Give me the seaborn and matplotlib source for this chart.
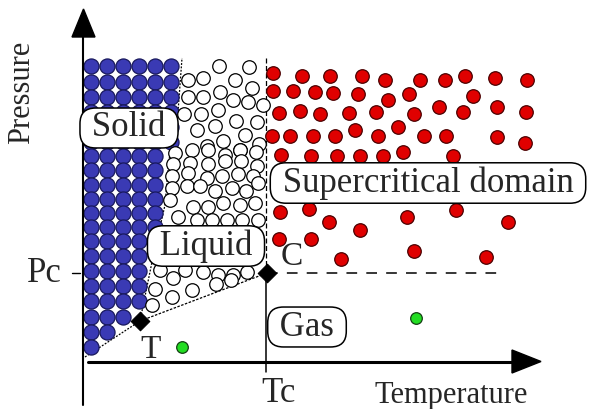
import matplotlib
matplotlib.use("Agg")
import matplotlib.pyplot as plt
import seaborn as sns
import pandas as pd

# ---------------- data (schematic coordinates, x to the right, y downward) ----------------
blue_cols = [91, 107, 123, 139, 155, 171]
blue_rows_y = [66, 82, 97, 112, 127, 142, 156, 170, 185, 199, 213, 227, 241, 256, 271, 286, 301, 317, 332, 347]
blue_rows_n = [6, 6, 6, 6, 6, 6, 5, 5, 5, 5, 5, 5, 5, 4, 4, 4, 4, 3, 2, 1]

liquid_x = [219, 249, 188, 203, 235, 252, 188, 203, 220, 233, 248, 263,
            184, 201, 218, 236, 257, 197, 215, 245, 259, 207, 223, 240,
            175, 192, 208, 225, 240, 256, 173, 190, 208, 225, 241, 257,
            172, 188, 207, 222, 238, 253, 172, 187, 200, 215, 232, 246, 258,
            170, 193, 208, 223, 240, 255, 178, 197, 212, 227, 242, 258,
            160, 173, 185, 203, 218, 233, 247, 155, 172, 192, 216, 231, 152]
liquid_y = [66, 67, 80, 78, 80, 88, 97, 97, 92, 100, 102, 105,
            114, 114, 110, 121, 122, 130, 126, 135, 144, 146, 141, 150,
            153, 150, 150, 155, 150, 152, 164, 163, 164, 161, 161, 166,
            176, 173, 178, 176, 174, 176, 188, 186, 186, 191, 188, 191, 183,
            200, 207, 207, 203, 205, 203, 217, 220, 220, 220, 220, 220,
            270, 278, 270, 272, 275, 275, 272, 289, 297, 290, 284, 280, 305]

red_x = [273, 302, 330, 362, 385, 420, 445, 465, 495, 527,
         273, 293, 315, 333, 358, 388, 409, 473,
         279, 300, 320, 349, 376, 398, 414, 439, 463, 497, 526,
         272, 290, 313, 335, 355, 378, 424, 446, 497, 525,
         281, 311, 337, 360, 383, 403, 453,
         280, 309, 329, 360, 407, 456, 508,
         279, 311, 341, 414, 486]
red_y = [73, 76, 76, 76, 80, 80, 80, 76, 78, 80,
         91, 91, 92, 93, 94, 100, 94, 96,
         113, 111, 114, 113, 112, 127, 114, 107, 112, 107, 112,
         136, 136, 136, 136, 130, 136, 136, 136, 137, 143,
         155, 156, 156, 156, 156, 152, 156,
         212, 209, 222, 230, 217, 210, 222,
         239, 239, 259, 251, 257]

gas_x = [182, 416]
gas_y = [347, 318]

special_x = [140, 267]          # triple point T, critical point C
special_y = [321, 273]

melt_x = [140, 152, 165, 169, 178, 182]
melt_y = [321, 262, 205, 160, 112, 58]

labels = ["Solid", "Liquid", "Supercritical domain", "Gas"]
label_x = [129, 206, 428, 307]
label_y = [128, 246, 183, 327]

# ---------------- figure ----------------
sns.set_theme(style="white")
plt.rcParams["font.family"] = "serif"
plt.rcParams["font.serif"] = ["Liberation Serif", "DejaVu Serif"]
SERIF = "Liberation Serif"

fig = plt.figure(figsize=(5.94, 4.09), dpi=100)
ax = fig.add_axes([0, 0, 1, 1])
ax.set_xlim(0, 594)
ax.set_ylim(409, 0)
ax.axis("off")

blue_pts = [(blue_cols[i], y) for y, n in zip(blue_rows_y, blue_rows_n) for i in range(n)]
blue_df = pd.DataFrame(blue_pts, columns=["x", "y"])
sns.scatterplot(data=blue_df, x="x", y="y", ax=ax, s=118, color="#3a3ab4",
                edgecolor="#18185c", linewidth=0.9, zorder=3, legend=False)

liq_df = pd.DataFrame({"x": liquid_x, "y": liquid_y})
sns.scatterplot(data=liq_df, x="x", y="y", ax=ax, s=95, color="white",
                edgecolor="black", linewidth=0.9, zorder=3, legend=False)

red_df = pd.DataFrame({"x": red_x, "y": red_y})
sns.scatterplot(data=red_df, x="x", y="y", ax=ax, s=95, color="#e00000",
                edgecolor="#4a0000", linewidth=0.9, zorder=3, legend=False)

gas_df = pd.DataFrame({"x": gas_x, "y": gas_y})
sns.scatterplot(data=gas_df, x="x", y="y", ax=ax, s=70, color="#22dd22",
                edgecolor="#124012", linewidth=0.9, zorder=3, legend=False)

# phase boundaries
ax.plot(melt_x, melt_y, color="black", lw=0.9, ls=(0, (1.5, 1.2)), zorder=2)
ax.plot([85, special_x[0]], [357, special_y[0]], color="black", lw=0.9, ls=(0, (1.5, 1.2)), zorder=2)
ax.plot(special_x, special_y, color="black", lw=0.9, ls=(0, (2, 1.2)), zorder=2)
ax.plot([266, 266], [58, special_y[1]], color="black", lw=0.9, ls=(0, (4, 2)), zorder=2)
ax.plot([266, 266], [special_y[1], 372], color="black", lw=1.1, zorder=2)
ax.plot([special_x[1], 505], [special_y[1], special_y[1]], color="black", lw=1.1,
        ls=(0, (7, 6)), zorder=2)

sns.scatterplot(x=special_x, y=special_y, ax=ax, s=90, marker="D", color="black",
                edgecolor="black", zorder=5, legend=False)

# axes with arrows
ax.plot([83, 83], [35, 405], color="black", lw=1.5, zorder=4)
ax.fill([72, 95, 83.5], [37, 37, 9], color="black", zorder=4)
ax.plot([88, 515], [362, 362], color="black", lw=2.2, zorder=4)
ax.fill([512, 512, 541], [350, 373, 361.5], color="black", zorder=4)
ax.plot([72, 80], [special_y[1], special_y[1]], color="black", lw=1, zorder=4)

# region labels
for t, x, y in zip(labels, label_x, label_y):
    ax.text(x, y, " " + t + " ", fontsize=25, family=SERIF, ha="center", va="center", zorder=6,
            bbox=dict(boxstyle="round,pad=0.1,rounding_size=0.45", fc="white",
                      ec="black", lw=1.1))

ax.text(44, special_y[1], "Pc", fontsize=25, family=SERIF, ha="center", va="center", zorder=6)
ax.text(279, 394, "Tc", fontsize=25, family=SERIF, ha="center", va="center", zorder=6)
ax.text(151, 350, "T", fontsize=24, family=SERIF, ha="center", va="center", zorder=6)
ax.text(292, 257, "C", fontsize=24, family=SERIF, ha="center", va="center", zorder=6)
ax.text(451, 395, "Temperature", fontsize=22, family=SERIF, ha="center", va="center", zorder=6)
ax.text(22, 92, "Pressure", fontsize=22, family=SERIF, ha="center", va="center",
        rotation=90, zorder=6)

fig.savefig("out.png", dpi=100, facecolor="white")
